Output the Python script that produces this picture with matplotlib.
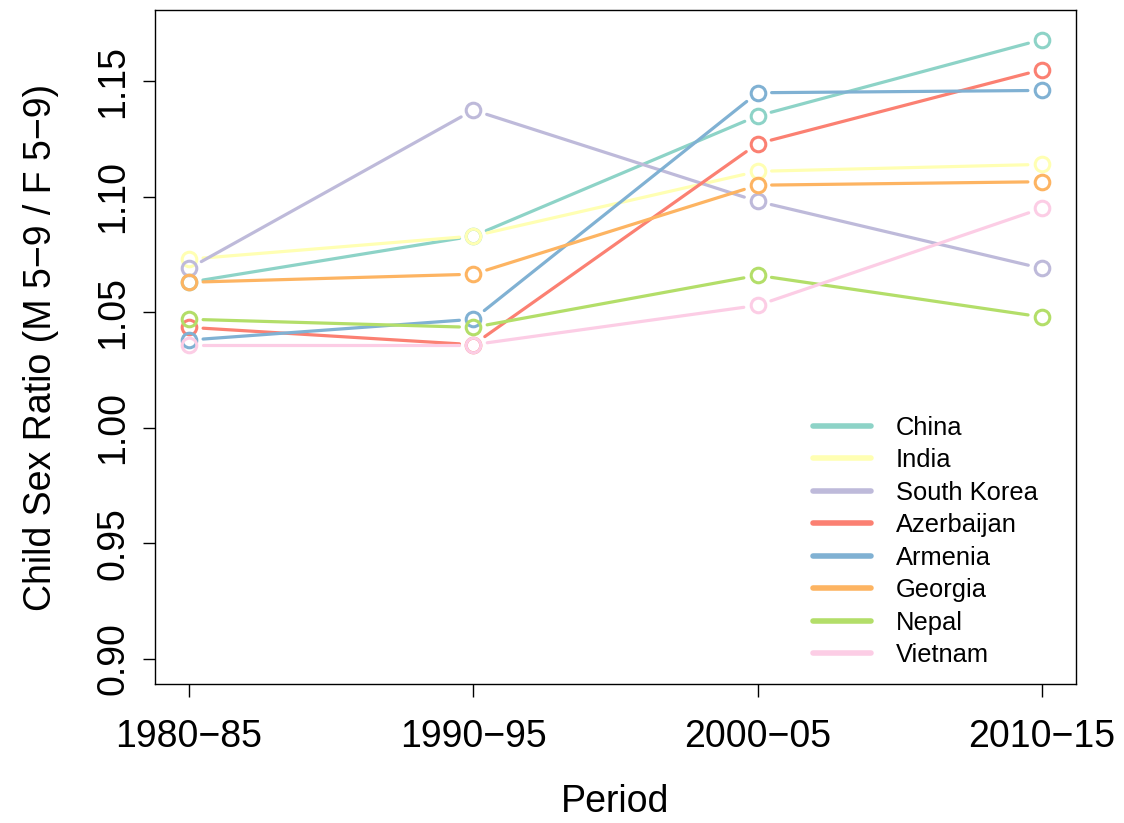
import numpy as np
import matplotlib
matplotlib.use("Agg")
import matplotlib.pyplot as plt

plt.rcParams["font.family"] = ["Liberation Sans", "DejaVu Sans"]

periods = ["1980\u221285", "1990\u221295", "2000\u221205", "2010\u221215"]
countries = ["China", "India", "South Korea", "Azerbaijan", "Armenia", "Georgia", "Nepal", "Vietnam"]
colors = ["#8DD3C7", "#FFFFB3", "#BEBADA", "#FB8072", "#80B1D3", "#FDB462", "#B3DE69", "#FCCDE5"]

china = [1.063, 1.083, 1.135, 1.168]
india = [1.073, 1.083, 1.111, 1.114]
south_korea = [1.069, 1.1375, 1.098, 1.069]
azerbaijan = [1.0435, 1.036, 1.123, 1.155]
armenia = [1.038, 1.047, 1.145, 1.146]
georgia = [1.063, 1.0665, 1.105, 1.1065]
nepal = [1.047, 1.0435, 1.066, 1.048]
vietnam = [1.036, 1.036, 1.053, 1.095]
series = [china, india, south_korea, azerbaijan, armenia, georgia, nepal, vietnam]

W, H = 1124, 823
fig = plt.figure(figsize=(W / 100, H / 100), dpi=100)
ax = fig.add_axes([155 / W, 1 - 684 / H, (1076 - 155) / W, (684 - 10) / H])

x = np.arange(1, len(periods) + 1)
ax.set_xlim(0.88, 4.12)
ax.set_ylim(0.8892, 1.1808)

gap = 14  # pixels, like R type="b"
fig.canvas.draw()
to_disp = ax.transData
to_data = ax.transData.inverted()

for vals, col, name in zip(series, colors, countries):
    pts = to_disp.transform(np.column_stack([x, vals]))
    for p0, p1 in zip(pts[:-1], pts[1:]):
        d = p1 - p0
        n = np.hypot(*d)
        if n <= 2 * gap:
            continue
        u = d / n
        seg = to_data.transform(np.array([p0 + u * gap, p1 - u * gap]))
        ax.plot(seg[:, 0], seg[:, 1], color=col, lw=2.3, solid_capstyle="round")
    ax.plot(x, vals, ls="none", marker="o", ms=10.5, mfc="none", mec=col, mew=2.2)
    ax.plot([], [], color=col, lw=4, solid_capstyle="round", label=name)

ax.set_xticks(x)
ax.set_xticklabels(periods, fontsize=27)
yt = [0.90, 0.95, 1.00, 1.05, 1.10, 1.15]
ax.set_yticks(yt)
ax.set_yticklabels([f"{v:.2f}" for v in yt], fontsize=27, rotation=90, va="center")
ax.tick_params(axis="both", length=9, width=1, direction="out")
ax.tick_params(axis="x", pad=16)
ax.tick_params(axis="y", pad=8)
for sp in ax.spines.values():
    sp.set_linewidth(1)

ax.set_xlabel("Period", fontsize=27, labelpad=21)
ax.set_ylabel("Child Sex Ratio (M 5\u22129 / F 5\u22129)", fontsize=27, labelpad=26)

leg = ax.legend(loc="upper left", bbox_to_anchor=(813 / W, 1 - 416 / H),
                bbox_transform=fig.transFigure, frameon=False, fontsize=18.4,
                handlelength=2.25, handletextpad=1.0, labelspacing=0.33,
                borderpad=0, borderaxespad=0)

fig.savefig("out.png", dpi=100)
